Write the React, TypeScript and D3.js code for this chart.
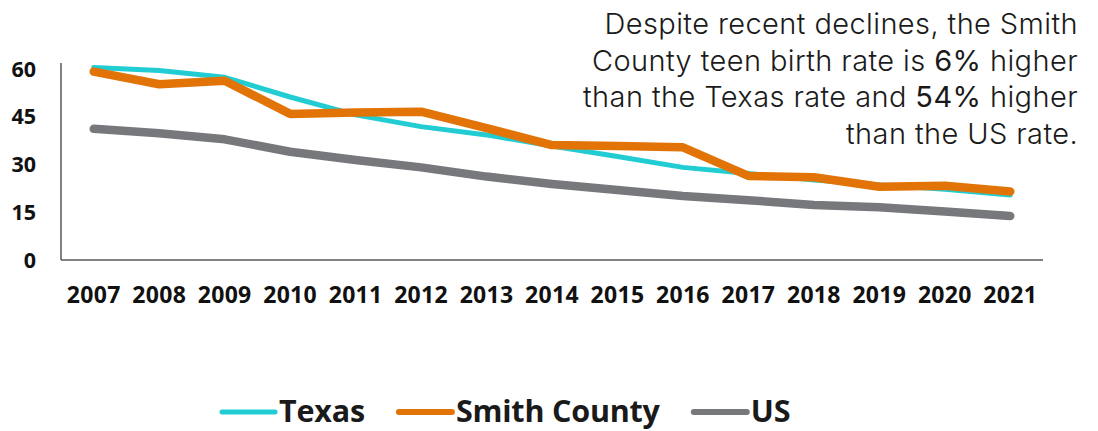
import React, { useEffect, useRef } from "react";
import * as d3 from "d3";

const years = ["2007", "2008", "2009", "2010", "2011", "2012", "2013", "2014", "2015", "2016", "2017", "2018", "2019", "2020", "2021"];
const texas = [60.5, 59.5, 57.4, 51.2, 45.6, 41.9, 39.3, 35.8, 32.5, 29.1, 27.2, 25.1, 23.6, 22.2, 20.4];
const smith = [59.2, 55.2, 56.3, 45.9, 46.3, 46.6, 41.4, 36.1, 35.8, 35.4, 26.4, 26.0, 23.0, 23.3, 21.5];
const us = [41.2, 39.8, 37.9, 34.0, 31.4, 29.1, 26.2, 23.9, 22.0, 20.1, 18.8, 17.3, 16.6, 15.2, 13.8];
const yTicks = [0, 15, 30, 45, 60];

const seriesNames = ["Texas", "Smith County", "US"];
const seriesColors = ["#22CCD3", "#E27306", "#77787C"];
const seriesWidths = [5, 8.5, 8.5];

const noteLines = [
  [{ t: "Despite recent declines, the Smith", b: false }],
  [{ t: "County teen birth rate is ", b: false }, { t: "6%", b: true }, { t: " higher", b: false }],
  [{ t: "than the Texas rate and ", b: false }, { t: "54%", b: true }, { t: " higher", b: false }],
  [{ t: "than the US rate.", b: false }],
];

const W = 1098;
const H = 431;

export default function App() {
  const svgRef = useRef(null);

  useEffect(() => {
    if (!svgRef.current) return;
    const svg = d3.select(svgRef.current);
    svg.selectAll("*").remove();

    const left = 61, right = 1043, bottom = 260;
    const x = d3.scaleBand().domain(years).range([left, right]);
    const y = d3.scaleLinear().domain([0, 60]).range([bottom, 69]);
    const cx = (d) => x(d) + x.bandwidth() / 2;

    const tickFont = "'Open Sans', sans-serif";

    // axes lines
    svg.append("line")
      .attr("x1", left).attr("x2", left).attr("y1", 63).attr("y2", bottom)
      .attr("stroke", "#595959").attr("stroke-width", 1.5);
    svg.append("line")
      .attr("x1", left).attr("x2", right).attr("y1", bottom).attr("y2", bottom)
      .attr("stroke", "#595959").attr("stroke-width", 1.5);

    // y tick labels
    svg.append("g").selectAll("text")
      .data(yTicks)
      .join("text")
      .attr("x", 36)
      .attr("y", (d) => y(d))
      .attr("dy", "0.36em")
      .attr("text-anchor", "end")
      .attr("font-family", tickFont)
      .attr("font-weight", 700)
      .attr("font-size", 21.5)
      .attr("fill", "#111")
      .text((d) => d);

    // x tick labels
    svg.append("g").selectAll("text")
      .data(years)
      .join("text")
      .attr("x", (d) => cx(d))
      .attr("y", 303)
      .attr("text-anchor", "middle")
      .attr("font-family", tickFont)
      .attr("font-weight", 700)
      .attr("font-size", 23)
      .attr("letter-spacing", 0.3)
      .attr("fill", "#111")
      .text((d) => d);

    // lines
    const line = d3.line()
      .x((d, i) => cx(years[i]))
      .y((d) => y(d));

    [texas, smith, us].forEach((vals, i) => {
      svg.append("path")
        .datum(vals)
        .attr("d", line)
        .attr("fill", "none")
        .attr("stroke", seriesColors[i])
        .attr("stroke-width", seriesWidths[i])
        .attr("stroke-linecap", "round")
        .attr("stroke-linejoin", "round");
    });

    // annotation
    const note = svg.append("text")
      .attr("text-anchor", "end")
      .attr("font-family", "Inter, 'Open Sans', sans-serif")
      .attr("font-size", 29)
      .attr("letter-spacing", 0.4)
      .attr("fill", "#1a1a1a");
    noteLines.forEach((parts, i) => {
      const t = note.append("tspan").attr("x", 1078).attr("y", 34 + i * 36.5);
      parts.forEach((p) => {
        t.append("tspan")
          .attr("font-weight", p.b ? 420 : 300)
          .text(p.t);
      });
    });

    // legend
    const legend = svg.append("g");
    let lx = 222;
    const ly = 411;
    seriesNames.forEach((name, i) => {
      legend.append("line")
        .attr("x1", lx).attr("x2", lx + 53)
        .attr("y1", ly + 1).attr("y2", ly + 1)
        .attr("stroke", seriesColors[i])
        .attr("stroke-width", i === 0 ? 5 : 6)
        .attr("stroke-linecap", "round");
      const txt = legend.append("text")
        .attr("x", lx + 57)
        .attr("y", ly)
        .attr("dy", "0.36em")
        .attr("font-family", tickFont)
        .attr("font-weight", 700)
        .attr("font-size", 30.5)
        .attr("letter-spacing", -0.2)
        .attr("fill", "#1a1a1a")
        .text(name);
      const w = txt.node().getComputedTextLength();
      lx = lx + 57 + w + 34;
    });
  }, []);

  return (
    <svg
      ref={svgRef}
      width={W}
      height={H}
      style={{ position: "absolute", left: 0, top: 0, background: "#fff" }}
    />
  );
}
